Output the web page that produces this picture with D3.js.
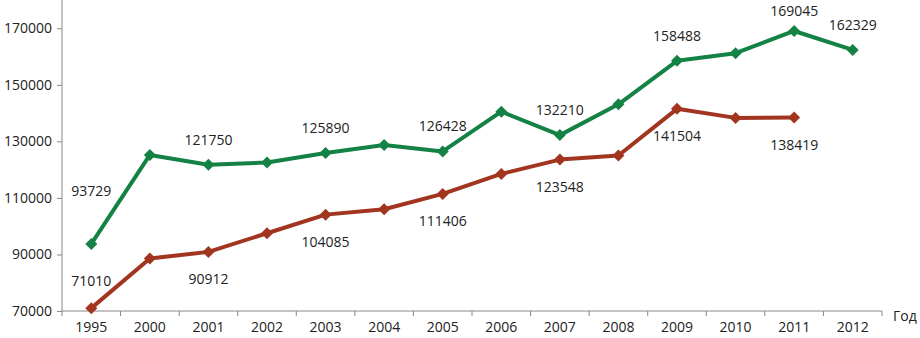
<!DOCTYPE html>
<html><head><meta charset="utf-8">
<script src="https://cdn.jsdelivr.net/npm/d3@7"></script>
<style>body{margin:0;background:#fff}svg{display:block}text{font-family:"Open Sans",sans-serif;font-size:14px;fill:#222}</style>
</head><body><svg id="c" width="920" height="338"></svg>
<script>
const years = ["1995","2000","2001","2002","2003","2004","2005","2006","2007","2008","2009","2010","2011","2012"];
const greenValues = [93729,125200,121750,122500,125890,128700,126428,140500,132210,143100,158488,161200,169045,162329];
const redValues = [71010,88600,90912,97500,104085,106000,111406,118500,123548,125000,141504,138300,138419,null];
const greenLabelled = ["1995","2001","2003","2005","2007","2009","2011","2012"];
const redLabelled = ["1995","2001","2003","2005","2007","2009","2011"];
const yTicks = [70000,90000,110000,130000,150000,170000];

const svg = d3.select("#c");
const x = d3.scaleBand().domain(years).range([62,882]);
const y = d3.scaleLinear().domain([70000,180000]).range([311,0]);
const cx = d => x(d) + x.bandwidth()/2;

// y axis
const ya = svg.append("g").attr("transform","translate(62,0)")
  .call(d3.axisLeft(y).tickValues(yTicks).tickSize(5).tickPadding(5).tickFormat(d3.format("d")));
ya.select(".domain").attr("stroke","#888").attr("d","M0,0V311");
ya.selectAll(".tick line").attr("stroke","#888");
ya.selectAll("text").style("font-size","14px").attr("fill","#222");

// x axis
const xa = svg.append("g").attr("transform","translate(0,311)")
  .call(d3.axisBottom(x).tickSize(0).tickPadding(11));
xa.select(".domain").attr("stroke","#888").attr("d","M62,0H882");
xa.selectAll("text").style("font-size","14px").attr("fill","#222");
const bounds = years.map(d => x(d)).concat([882]);
svg.append("g").selectAll("line").data(bounds).join("line")
  .attr("x1",d=>d).attr("x2",d=>d).attr("y1",311).attr("y2",316).attr("stroke","#888");
svg.append("text").attr("x",893).attr("y",321).text("Год");

function series(vals, color, labelled, offsets){
  const pts = years.map((yr,i)=>({yr,v:vals[i]})).filter(p=>p.v!=null);
  svg.append("path").datum(pts)
    .attr("d", d3.line().x(p=>cx(p.yr)).y(p=>y(p.v)))
    .attr("fill","none").attr("stroke",color).attr("stroke-width",4).attr("stroke-linejoin","round");
  svg.append("g").selectAll("path").data(pts).join("path")
    .attr("d", d3.symbol(d3.symbolSquare, 72))
    .attr("transform", p=>`translate(${cx(p.yr)},${y(p.v)}) rotate(45)`)
    .attr("fill",color);
  svg.append("g").selectAll("text").data(pts.filter(p=>labelled.includes(p.yr))).join("text")
    .attr("x",p=>cx(p.yr)).attr("y",p=>y(p.v)+offsets(p)+5)
    .attr("text-anchor","middle").text(p=>p.v);
}
series(greenValues,"#148244",greenLabelled,p=>p.yr==="1995"?-53:(p.yr==="2011"?-20:-25));
series(redValues,"#a2351f",redLabelled,p=>p.yr==="1995"?-27:27);
</script></body></html>
